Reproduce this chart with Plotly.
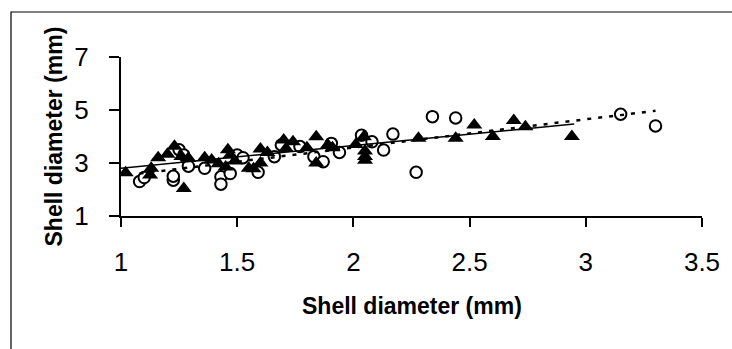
import plotly.graph_objects as go

# Triangles (filled) series
tri_x = [1.02, 1.125, 1.13, 1.16, 1.20, 1.23, 1.26, 1.29, 1.27, 1.36, 1.39, 1.42, 1.45, 1.46, 1.47,
         1.49, 1.55, 1.57, 1.60, 1.60, 1.63, 1.70, 1.71, 1.74, 1.80, 1.84, 1.84, 1.89, 1.91, 2.01,
         2.045, 2.05, 2.05, 2.05, 2.28, 2.44, 2.52, 2.60, 2.69, 2.74, 2.94]
tri_y = [2.63, 2.55, 2.80, 3.20, 3.33, 3.63, 3.25, 3.18, 2.04, 3.20, 3.11, 2.97, 2.85, 3.50, 3.30,
         3.08, 2.80, 2.78, 3.53, 3.00, 3.40, 3.87, 3.55, 3.80, 3.58, 3.99, 3.00, 3.68, 3.58, 3.70,
         3.99, 3.45, 3.25, 3.10, 3.93, 3.93, 4.43, 4.00, 4.60, 4.37, 4.00]

# Open circles series
cir_x = [1.08, 1.10, 1.225, 1.225, 1.25, 1.27, 1.29, 1.36, 1.43, 1.43, 1.47, 1.50, 1.525, 1.59,
         1.66, 1.69, 1.77, 1.83, 1.87, 1.905, 1.94, 2.035, 2.08, 2.13, 2.17, 2.27, 2.34, 2.44,
         3.15, 3.30]
cir_y = [2.30, 2.45, 2.35, 2.50, 3.50, 3.30, 2.88, 2.80, 2.48, 2.20, 2.60, 3.30, 3.20, 2.65,
         3.24, 3.68, 3.62, 3.24, 3.05, 3.74, 3.40, 4.05, 3.80, 3.49, 4.09, 2.65, 4.75, 4.70,
         4.84, 4.40]

# Trend lines (end points)
tri_fit_x = [1.0, 2.95]
tri_fit_y = [2.80, 4.47]
cir_fit_x = [1.08, 3.30]
cir_fit_y = [2.60, 4.97]

x_ticks = [1, 1.5, 2, 2.5, 3, 3.5]
y_ticks = [1, 3, 5, 7]
axis_title = "Shell diameter (mm)"

fig = go.Figure()
fig.add_trace(go.Scatter(x=cir_x, y=cir_y, mode="markers",
                         marker=dict(symbol="circle", size=11.5, color="white",
                                     line=dict(color="black", width=2)),
                         showlegend=False, hoverinfo="skip"))
fig.add_trace(go.Scatter(x=tri_x, y=tri_y, mode="markers",
                         marker=dict(symbol="triangle-up", size=14, color="black",
                                     line=dict(width=0)),
                         showlegend=False, hoverinfo="skip"))
fig.add_trace(go.Scatter(x=tri_fit_x, y=tri_fit_y, mode="lines",
                         line=dict(color="black", width=1.5), showlegend=False, hoverinfo="skip"))
fig.add_trace(go.Scatter(x=cir_fit_x, y=cir_fit_y, mode="lines",
                         line=dict(color="black", width=2.5, dash="4px,7px"), showlegend=False,
                         hoverinfo="skip"))

tick_font = dict(family="Liberation Sans, Arial, sans-serif", size=26, color="black")
title_font = dict(family="Liberation Sans, Arial, sans-serif", size=23, color="black")

fig.update_layout(
    width=732, height=349,
    margin=dict(l=121, r=30, t=57, b=133, autoexpand=False),
    paper_bgcolor="white", plot_bgcolor="white",
    xaxis=dict(range=[1, 3.5], tickvals=x_ticks, ticktext=[str(v) for v in x_ticks],
               showgrid=False, zeroline=False, showline=True, linecolor="black", linewidth=2,
               ticks="outside", ticklen=9, tickwidth=2, tickcolor="black",
               tickfont=tick_font, ticklabelstandoff=13, automargin=False),
    yaxis=dict(range=[1, 7], tickvals=y_ticks, ticktext=[str(v) for v in y_ticks],
               showgrid=False, zeroline=False, showline=True, linecolor="black", linewidth=2,
               ticks="outside", ticklen=10, tickwidth=2, tickcolor="black",
               tickfont=tick_font, ticklabelstandoff=15, automargin=False),
    annotations=[
        dict(text="<b>" + axis_title + "</b>", xref="paper", yref="paper",
             x=0.5, y=(216 - 306) / 159, xanchor="center", yanchor="middle",
             showarrow=False, font=title_font),
        dict(text="<b>" + axis_title + "</b>", xref="paper", yref="paper",
             x=(53 - 121) / 581, y=0.5, xanchor="center", yanchor="middle",
             textangle=-90, showarrow=False, font=title_font),
    ],
)

# Chart-area frame (cropped at right and bottom in the reference)
fig.add_shape(type="rect", xref="paper", yref="paper",
              x0=(11 - 121) / 581, x1=(760 - 121) / 581,
              y0=(216 - 380) / 159, y1=(216 - 12) / 159,
              line=dict(color="black", width=1.2), fillcolor="rgba(0,0,0,0)", layer="below")

fig.write_html("out.html", config={"displayModeBar": False},
               post_script="document.body.style.margin='0';document.body.style.overflow='hidden';")
